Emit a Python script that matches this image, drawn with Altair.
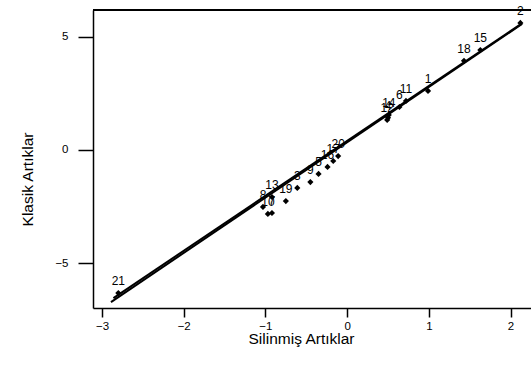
import altair as alt
import pandas as pd

obs = [str(i) for i in range(1, 22)]
deleted = [0.99, 2.12, -0.61, 0.50, -0.35, 0.64, -0.92, -1.03, -0.45, -0.97,
           0.72, 0.49, -0.92, 0.51, 1.63, -0.24, -0.17, 1.43, -0.75, -0.11, -2.80]
classic = [2.61, 5.62, -1.68, 1.42, -1.06, 1.90, -2.79, -2.52, -1.42, -2.83,
           2.17, 1.33, -2.08, 1.55, 4.42, -0.75, -0.49, 3.94, -2.26, -0.27, -6.33]

line_a_x = [-2.89, 2.14]
line_a_y = [-6.73, 5.57]
line_b_x = [-2.86, 2.14]
line_b_y = [-6.55, 5.60]

x_ticks = [-3, -2, -1, 0, 1, 2]
y_ticks = [-5, 0, 5]

W, H = 438, 298
FONT = "Liberation Sans"

pts = pd.DataFrame({"obs": obs, "x": deleted, "y": classic})
lines = pd.DataFrame({
    "x": line_a_x + line_b_x,
    "y": line_a_y + line_b_y,
    "fit": ["a", "a", "b", "b"],
})

xs = alt.Scale(domain=[-3.11, 2.25], nice=False, zero=False)
ys = alt.Scale(domain=[-6.99, 6.19], nice=False, zero=False)

x_axis = alt.Axis(values=x_ticks, format="d", title="Silinmiş Artıklar", grid=False,
                  tickSize=9, labelPadding=3, labelFontSize=11.5,
                  titleFontSize=15.5, titleFontWeight="normal",
                  titleX=208, titleY=35, titleBaseline="alphabetic",
                  titleAnchor="middle")
y_axis = alt.Axis(values=y_ticks, format="d", title="Klasik Artıklar", grid=False,
                  tickSize=15, labelPadding=10, labelFontSize=11.5,
                  titleFontSize=15.5, titleFontWeight="normal",
                  titleX=-61, titleY=169, titleBaseline="alphabetic",
                  titleAnchor="middle")

base_pts = alt.Chart(pts)

points = base_pts.mark_point(shape="diamond", filled=True, color="black",
                             size=38, opacity=1).encode(
    x=alt.X("x:Q", scale=xs, axis=x_axis),
    y=alt.Y("y:Q", scale=ys, axis=y_axis),
)

labels = base_pts.mark_text(font=FONT, fontSize=12, color="black", fill="black",
                            dy=-12, baseline="middle").encode(
    x=alt.X("x:Q", scale=xs),
    y=alt.Y("y:Q", scale=ys),
    text="obs:N",
)

fit_lines = alt.Chart(lines).mark_line(color="black", strokeWidth=2).encode(
    x=alt.X("x:Q", scale=xs),
    y=alt.Y("y:Q", scale=ys),
    detail="fit:N",
)

top_rule = alt.Chart(pts).mark_rule(color="black", strokeWidth=1.5).encode(
    x=alt.value(0), x2=alt.value(W + 5), y=alt.value(0)
)

chart = alt.layer(fit_lines, points, labels, top_rule).properties(
    width=W, height=H,
    autosize=alt.AutoSizeParams(type="none"),
    padding={"left": 93, "top": 10, "right": 0, "bottom": 60},
    background="white",
).configure_view(stroke=None).configure_axis(
    domainColor="black", domainWidth=1.5, tickColor="black", tickWidth=1.5,
    labelColor="black", titleColor="black", labelFont=FONT, titleFont=FONT,
)

chart.save("out.html", embed_options={"renderer": "svg", "actions": False})
